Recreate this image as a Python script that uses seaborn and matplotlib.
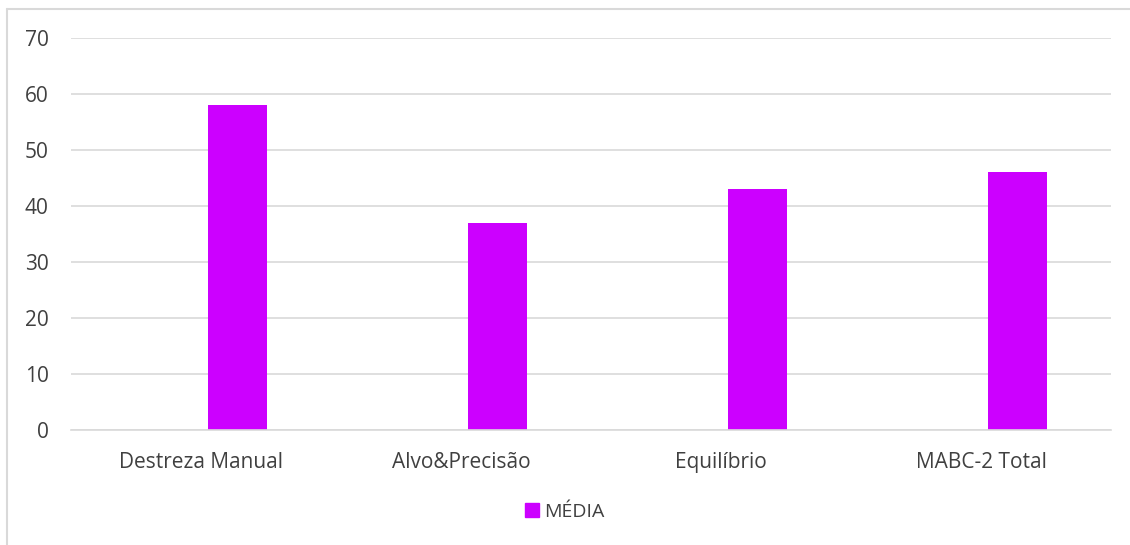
import matplotlib
matplotlib.use("Agg")
import matplotlib.pyplot as plt
from matplotlib.lines import Line2D
import pandas as pd
import seaborn as sns

# dados do gráfico
categorias = ["Destreza Manual", "Alvo&Precisão", "Equilíbrio", "MABC-2 Total"]
media = [58, 37, 43, 46]
serie = "MÉDIA"

df = pd.DataFrame({"categoria": categorias, "valor": media, "serie": serie})

sns.set_theme(style="white")
plt.rcParams["font.family"] = ["Open Sans", "DejaVu Sans"]

cor_barra = "#CC00FF"
cor_texto = "#404040"
cor_grade = "#D9D9D9"

fig = plt.figure(figsize=(11.3, 5.45), dpi=100)
ax = fig.add_axes([71 / 1130, 1 - 430 / 545, 1040 / 1130, 392 / 545])

sns.barplot(data=df, x="categoria", y="valor", hue="serie", palette=[cor_barra],
            width=0.227, ax=ax, legend=False, saturation=1)

# barras deslocadas à direita do centro da categoria (como no Excel)
for p in ax.patches:
    p.set_x(p.get_x() + 0.14)
    p.set_linewidth(0)

ax.set_xlim(-0.5, len(categorias) - 0.5)
ax.set_ylim(0, 70)
ax.set_yticks(range(0, 71, 10))
ax.yaxis.grid(True, color=cor_grade, linewidth=1.2)
ax.set_axisbelow(True)
for s in ["top", "right", "left"]:
    ax.spines[s].set_visible(False)
ax.spines["bottom"].set_color(cor_grade)
ax.spines["bottom"].set_linewidth(1.2)
ax.set_xlabel("")
ax.set_ylabel("")
ax.tick_params(axis="both", length=0, labelsize=15, labelcolor=cor_texto)
ax.tick_params(axis="x", pad=16)
ax.tick_params(axis="y", pad=16)

handle = plt.Rectangle((0, 0), 1, 1, color=cor_barra)
fig.legend([handle], [serie], loc="center", bbox_to_anchor=(0.5, 1 - 512 / 545),
           frameon=False, fontsize=14, labelcolor=cor_texto,
           handlelength=0.7, handleheight=0.7, handletextpad=0.3)

# borda do gráfico (topo e esquerda)
fig.add_artist(Line2D([7 / 1130, 1], [1 - 9 / 545, 1 - 9 / 545], color=cor_grade, linewidth=1.5))
fig.add_artist(Line2D([7 / 1130, 7 / 1130], [0, 1 - 9 / 545], color=cor_grade, linewidth=1.5))

fig.savefig("out.png", dpi=100, facecolor="white")
